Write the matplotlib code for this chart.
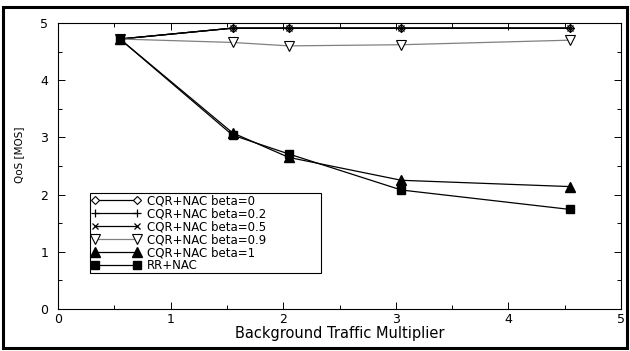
import numpy as np
import matplotlib
matplotlib.use('Agg')
import matplotlib.pyplot as plt
from matplotlib.patches import Rectangle
from matplotlib.ticker import MultipleLocator

plt.rcParams['font.family'] = ['DejaVu Sans']

# background traffic multiplier
x = [0.55, 1.55, 2.05, 3.05, 4.55]

# QoS [MOS] per scheme
beta0 = [4.72, 4.91, 4.91, 4.91, 4.91]
beta02 = [4.72, 4.91, 4.91, 4.91, 4.91]
beta05 = [4.72, 4.91, 4.91, 4.91, 4.91]
beta09 = [4.72, 4.66, 4.60, 4.62, 4.70]
beta1 = [4.72, 3.08, 2.65, 2.25, 2.14]
rr_nac = [4.72, 3.04, 2.71, 2.08, 1.74]

labels = ['CQR+NAC beta=0', 'CQR+NAC beta=0.2', 'CQR+NAC beta=0.5',
          'CQR+NAC beta=0.9', 'CQR+NAC beta=1', 'RR+NAC']

fig = plt.figure(figsize=(6.3, 3.51), dpi=100)
ax = fig.add_axes([58/630, 1 - 309/351, (621-58)/630, (309-23)/351])

ax.plot(x, beta0, color='black', lw=0.9, marker='D', ms=4.5, mfc='white', mec='black', mew=0.8, label=labels[0])
ax.plot(x, beta02, color='black', lw=0.9, marker='+', ms=6, mew=0.9, label=labels[1])
ax.plot(x, beta05, color='black', lw=0.9, marker='x', ms=4, mew=0.9, label=labels[2])
ax.plot(x, beta09, color='#808080', lw=0.9, marker='v', ms=7, mfc='white', mec='black', mew=0.8, label=labels[3])
ax.plot(x, beta1, color='black', lw=0.9, marker='^', ms=7.5, mfc='black', mec='black', label=labels[4])
ax.plot(x, rr_nac, color='black', lw=0.9, marker='s', ms=5.5, mfc='black', mec='black', label=labels[5])

ax.set_xlim(0, 5)
ax.set_ylim(0, 5)
ax.xaxis.set_major_locator(MultipleLocator(1))
ax.xaxis.set_minor_locator(MultipleLocator(0.5))
ax.yaxis.set_major_locator(MultipleLocator(1))
ax.yaxis.set_minor_locator(MultipleLocator(0.5))
ax.tick_params(which='both', direction='in', top=True, right=True, labelsize=9, width=0.7)
ax.tick_params(which='major', length=5, pad=3)
ax.tick_params(axis='y', which='major', pad=7)
ax.tick_params(which='minor', length=3)
for s in ax.spines.values():
    s.set_linewidth(0.8)

ax.set_xlabel('Background Traffic Multiplier', fontsize=10.5, labelpad=0)
ax.set_ylabel('QoS [MOS]', fontsize=7.5)
ax.yaxis.set_label_coords(-0.06, 0.54)

leg = ax.legend(loc='upper left', bbox_to_anchor=(0.057, 0.119, 0.41, 0.287), mode='expand',
                numpoints=2, handlelength=4.2,
                fontsize=8.5, frameon=True, fancybox=False, framealpha=1, edgecolor='black',
                borderpad=0.1, labelspacing=0.0, handletextpad=0.5, borderaxespad=0)
leg.get_frame().set_linewidth(0.8)

# outer frame around the whole figure
fig.patches.append(Rectangle((3/630, 3/351), 624/630, 341/351, transform=fig.transFigure,
                             fill=False, edgecolor='black', linewidth=2.2))

fig.savefig('out.png', dpi=100)
